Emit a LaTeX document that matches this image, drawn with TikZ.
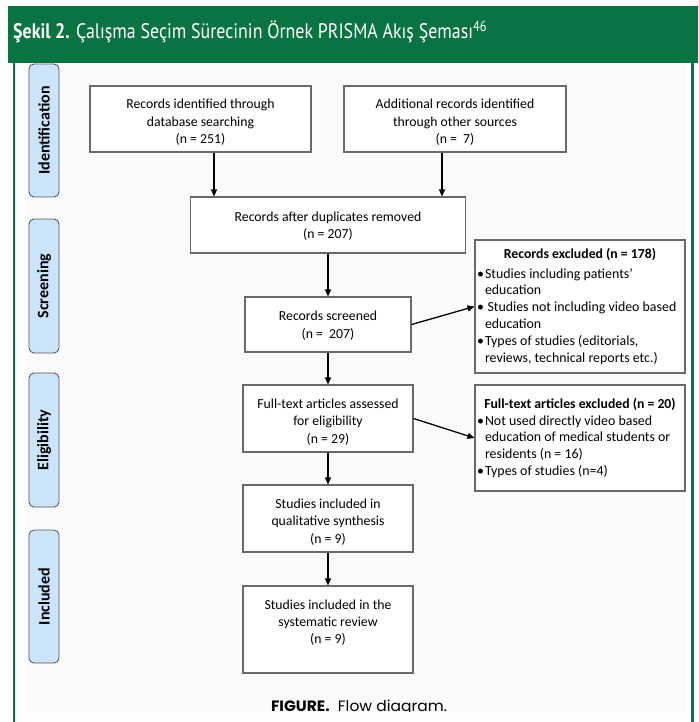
\documentclass[tikz,border=0pt]{standalone}
\usepackage{fontspec}
\usepackage{graphicx}
\setmainfont{Carlito}
\newfontfamily\hdrfont{PT Sans}
\newfontfamily\capfont{Poppins}
\usetikzlibrary{arrows.meta}
\definecolor{hdrgreen}{RGB}{9,116,65}
\definecolor{phasefill}{RGB}{204,228,250}
\definecolor{boxgray}{RGB}{105,105,105}
\definecolor{panel}{RGB}{250,250,250}
\newcommand{\bul}{\makebox[8pt][l]{\textbullet}}
\newcommand{\tstrut}{\rule{0pt}{16.5pt}}
\newcommand{\sstrut}{\rule{0pt}{12pt}}
\begin{document}
\begin{tikzpicture}[x=1pt,y=-1pt,
  box/.style={draw=boxgray, line width=1.1pt, fill=white, align=center,
    font=\fontsize{13.75}{17.3}\selectfont, inner sep=0pt},
  exbox/.style={draw=boxgray, line width=1.1pt, fill=white, inner xsep=2pt, inner ysep=0pt,
    minimum width=210pt, font=\fontsize{13.9}{16.8}\selectfont},
  phase/.style={draw=black!65, fill=phasefill, rounded corners=5pt, line width=0.9pt,
    minimum height=30pt, inner sep=0pt, rotate=90, font=\fontsize{16}{18}\selectfont\bfseries},
  arr/.style={-{Triangle[length=7pt,width=6pt]}, line width=1.3pt, black}]
\useasboundingbox (0,0) rectangle (698,722);
\fill[white] (0,0) rectangle (698,722);
% header and frame
\fill[hdrgreen] (8,6) rectangle (698,63);
\draw[hdrgreen, line width=2.2pt] (14,62) -- (14,722);
\draw[hdrgreen, line width=2.2pt] (692.5,62) -- (692.5,722);
\fill[panel] (27,64) rectangle (686,712.5);
\node[anchor=base west, text=white, inner sep=0pt] (hdr) at (13,39)
  {\resizebox{474pt}{\height}{\hdrfont\fontsize{21}{21}\selectfont\textbf{Şekil 2.} Çalışma Seçim Sürecinin Örnek PRISMA Akış Şeması\textsuperscript{46}}};
% phases
\node[phase, minimum width=133pt] (ph1) at (44,130.5) {Identification};
\node[phase, minimum width=134pt] (ph2) at (44,286) {Screening};
\node[phase, minimum width=134pt] (ph3) at (44,440) {Eligibility};
\node[phase, minimum width=133pt] (ph4) at (44,596.5) {Included};
% boxes
\node[box, minimum width=221pt, minimum height=66pt] (id1) at (200.5,119)
  {\tstrut Records identified through\\database searching\\(n = 251)};
\node[box, minimum width=222pt, minimum height=66pt] (id2) at (455,119)
  {\tstrut Additional records identified\\through other sources\\(n =\ \ 7)};
\node[box, minimum width=275pt, minimum height=56pt] (dup) at (328,225)
  {\sstrut Records after duplicates removed\\(n = 207)};
\node[box, minimum width=166pt, minimum height=55pt] (scr) at (328,324.5)
  {\sstrut Records screened\\(n =\ \ 207)};
\node[box, minimum width=170pt, minimum height=67pt] (ft) at (328,418.5)
  {\tstrut Full-text articles assessed\\for eligibility\\(n = 29)};
\node[box, minimum width=170pt, minimum height=67pt] (qual) at (328,518.5)
  {\tstrut Studies included in\\qualitative synthesis\\(n = 9)};
\node[box, minimum width=170pt, minimum height=87pt] (sys) at (328,629.5)
  {Studies included in the\\systematic review\\(n = 9)\\[-2pt]\mbox{}};
\node[exbox, minimum height=133pt] (ex1) at (580,306.5)
  {\begin{minipage}{206pt}\centering\fontsize{13.75}{16.8}\selectfont\bfseries Records excluded (n = 178)\par\vspace{2.3pt}
   \raggedright\mdseries\fontsize{13.9}{16.8}\selectfont
   \hangindent=8pt\hangafter=1\bul Studies including patients’\newline education\par
   \hangindent=8pt\hangafter=1\bul\hspace{2.5pt}Studies not including video based\newline education\par
   \hangindent=8pt\hangafter=1\bul Types of studies (editorials,\newline reviews, technical reports etc.)\par
   \end{minipage}};
\node[exbox, minimum height=106pt] (ex2) at (580,438)
  {\begin{minipage}{206pt}\centering\fontsize{13.75}{16.8}\selectfont\bfseries Full-text articles excluded (n = 20)\par
   \raggedright\mdseries\fontsize{13.9}{16.8}\selectfont
   \hangindent=8pt\hangafter=1\bul Not used directly video based\newline education of medical students or\newline residents (n = 16)\par
   \hangindent=8pt\hangafter=1\bul Types of studies (n=4)\par
   \end{minipage}};
% arrows
\draw[arr] ([xshift=13.5pt]id1.south) -- ([xshift=13.5pt]id1.south |- dup.north);
\draw[arr] ([xshift=-13pt]id2.south) -- ([xshift=-13pt]id2.south |- dup.north);
\draw[arr] (dup.south) -- (scr.north);
\draw[arr] (scr.east) -- (ex1.west);
\draw[arr] (scr.south) -- (ft.north);
\draw[arr] (ft.east) -- (ex2.west);
\draw[arr] (ft.south) -- (qual.north);
\draw[arr] (qual.south) -- (sys.north);
% caption
\begin{scope}
\clip (0,0) rectangle (698,711.4);
\node[anchor=base, inner sep=0pt] (cap) at (359,711)
  {\resizebox{176pt}{\height}{\capfont\fontsize{15}{15}\selectfont\textbf{FIGURE.}\ \ Flow diagram.}};
\end{scope}
\end{tikzpicture}
\end{document}
